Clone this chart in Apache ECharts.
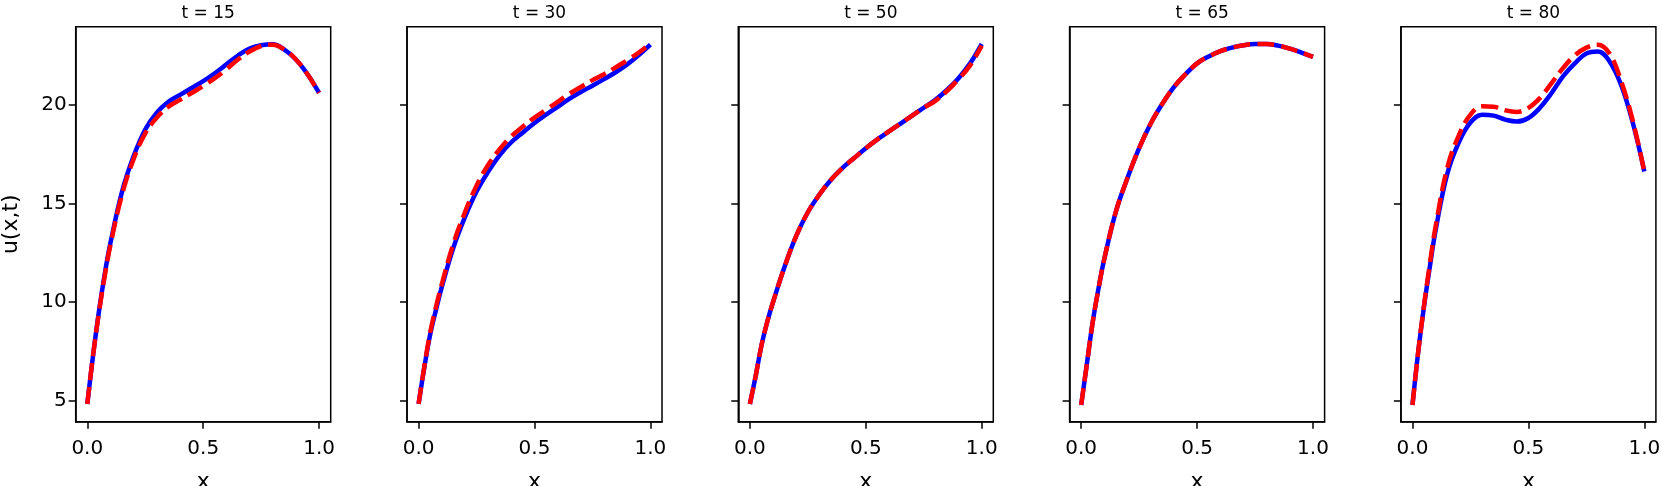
<!DOCTYPE html>
<html>
<head>
<meta charset="utf-8">
<script src="https://cdn.jsdelivr.net/npm/echarts@6/dist/echarts.min.js"></script>
<style>
  html, body { margin: 0; padding: 0; background: #fff; }
  #main { width: 1661px; height: 486px; }
</style>
</head>
<body>
<div id="main"></div>
<script>
var myChart = echarts.init(document.getElementById('main'));

// sample positions along x (shared by every panel)
var xGrid = [0, 0.025, 0.05, 0.075, 0.1, 0.15, 0.2, 0.25, 0.3, 0.35, 0.4, 0.45,
             0.5, 0.55, 0.6, 0.65, 0.7, 0.75, 0.8, 0.85, 0.9, 0.95, 1.0];

var times = [15, 30, 50, 65, 80];

// exact solution (blue, solid)
var exact15 = [4.83, 7.3, 9.5, 11.4, 13.0, 15.6, 17.4, 18.75, 19.6, 20.15, 20.5, 20.85,
               21.2, 21.6, 22.05, 22.5, 22.85, 23.02, 23.07, 22.8, 22.3, 21.55, 20.6];
var exact30 = [4.83, 6.7, 8.35, 9.6, 10.75, 12.75, 14.3, 15.6, 16.6, 17.45, 18.1, 18.6,
               19.08, 19.5, 19.9, 20.3, 20.65, 20.97, 21.3, 21.65, 22.05, 22.52, 23.05];
var exact50 = [4.83, 6.25, 7.8, 9.0, 10.0, 11.8, 13.35, 14.55, 15.45, 16.2, 16.8, 17.3,
               17.8, 18.25, 18.65, 19.05, 19.45, 19.85, 20.25, 20.75, 21.35, 22.1, 23.09];
var exact65 = [4.78, 6.9, 9.0, 10.7, 12.2, 14.6, 16.3, 17.8, 19.05, 20.05, 20.9, 21.55,
               22.1, 22.45, 22.72, 22.9, 23.02, 23.08, 23.08, 23.0, 22.85, 22.65, 22.43];
var exact80 = [4.78, 7.5, 9.8, 11.8, 13.65, 16.5, 18.1, 19.1, 19.5, 19.45, 19.25, 19.15,
               19.33, 19.85, 20.6, 21.45, 22.1, 22.6, 22.7, 22.2, 21.0, 19.1, 16.62];

// prediction (red, dashed)
var pred15 = [4.83, 7.3, 9.45, 11.3, 12.9, 15.45, 17.25, 18.55, 19.35, 19.9, 20.25, 20.6,
              20.95, 21.35, 21.8, 22.3, 22.7, 22.98, 23.05, 22.8, 22.3, 21.55, 20.6];
var pred30 = [4.83, 6.75, 8.45, 9.75, 10.9, 12.95, 14.55, 15.9, 16.95, 17.75, 18.4, 18.9,
              19.35, 19.75, 20.15, 20.55, 20.9, 21.25, 21.55, 21.9, 22.25, 22.65, 23.1];
var pred50 = [4.83, 6.25, 7.8, 9.0, 10.0, 11.8, 13.35, 14.55, 15.45, 16.2, 16.8, 17.3,
              17.8, 18.25, 18.65, 19.05, 19.45, 19.85, 20.2, 20.7, 21.3, 22.0, 23.0];
var pred65 = [4.78, 6.9, 9.0, 10.7, 12.2, 14.6, 16.3, 17.8, 19.05, 20.05, 20.9, 21.55,
              22.1, 22.45, 22.72, 22.9, 23.02, 23.08, 23.08, 23.0, 22.85, 22.65, 22.43];
var pred80 = [4.78, 7.5, 9.85, 11.95, 13.85, 16.8, 18.45, 19.5, 19.92, 19.9, 19.72, 19.64,
              19.84, 20.35, 21.1, 21.87, 22.5, 22.9, 23.05, 22.6, 21.2, 19.2, 16.62];

var xTicks = [0, 0.5, 1.0];
var yTicks = [5, 10, 15, 20];

var exactAll = [exact15, exact30, exact50, exact65, exact80];
var predAll = [pred15, pred30, pred50, pred65, pred80];

function pairs(ys) {
    return xGrid.map(function (x, i) { return [x, ys[i]]; });
}

var font = 'DejaVu Sans';
var titles = [], grids = [], xAxes = [], yAxes = [], series = [];

times.forEach(function (t, i) {
    var left = 75.7 + i * 331.3;
    grids.push({
        left: left, top: 26.7, width: 255, height: 395,
        outerBoundsMode: 'none', containLabel: false,
        show: true, borderColor: '#000', borderWidth: 1.5, backgroundColor: '#fff'
    });
    titles.push({
        text: 't = ' + t,
        left: left + 127.5, top: 0, textAlign: 'center',
        textStyle: {fontFamily: font, fontSize: 17, fontWeight: 'normal', color: '#000'}
    });
    xAxes.push({
        gridIndex: i, type: 'value', min: -0.05, max: 1.05,
        name: 'x', nameLocation: 'middle', nameGap: 50,
        nameTextStyle: {fontFamily: font, fontSize: 22, color: '#000'},
        axisLine: {show: true, onZero: false, lineStyle: {color: '#000', width: 1.5}},
        axisTick: {show: true, length: 7, customValues: xTicks, lineStyle: {color: '#000', width: 1.5}},
        axisLabel: {
            customValues: xTicks, margin: 17, fontFamily: font, fontSize: 20, color: '#000',
            formatter: function (v) { return v.toFixed(1); }
        },
        splitLine: {show: false}
    });
    yAxes.push({
        gridIndex: i, type: 'value', min: 3.93, max: 23.96,
        name: i === 0 ? 'u(x,t)' : '', nameLocation: 'middle', nameGap: 53, nameRotate: 90,
        nameTextStyle: {fontFamily: font, fontSize: 22, color: '#000'},
        axisLine: {show: true, onZero: false, lineStyle: {color: '#000', width: 1.5}},
        axisTick: {show: true, length: 7, customValues: yTicks, lineStyle: {color: '#000', width: 1.5}},
        axisLabel: {
            show: i === 0, customValues: yTicks, margin: 9,
            fontFamily: font, fontSize: 20, color: '#000'
        },
        splitLine: {show: false}
    });
    series.push({
        type: 'line', xAxisIndex: i, yAxisIndex: i, data: pairs(exactAll[i]),
        showSymbol: false, smooth: 0.4, z: 2,
        lineStyle: {color: '#0000ff', width: 4.5}
    });
    series.push({
        type: 'line', xAxisIndex: i, yAxisIndex: i, data: pairs(predAll[i]),
        showSymbol: false, smooth: 0.4, z: 3,
        lineStyle: {color: '#ff0000', width: 4.5, type: [17, 7]}
    });
});

var option = {
    animation: false,
    backgroundColor: '#fff',
    title: titles,
    grid: grids,
    xAxis: xAxes,
    yAxis: yAxes,
    series: series
};

myChart.setOption(option);
</script>
</body>
</html>
